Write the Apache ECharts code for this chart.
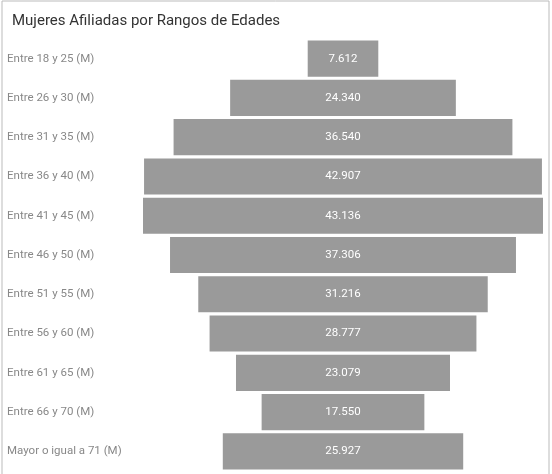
<!DOCTYPE html>
<html>
<head>
<meta charset="utf-8">
<script src="https://cdn.jsdelivr.net/npm/echarts@6/dist/echarts.min.js"></script>
<style>
html,body{margin:0;padding:0;background:#fff;}
#chart{width:552px;height:474px;}
</style>
</head>
<body>
<div id="chart"></div>
<script>
const titleText = 'Mujeres Afiliadas por Rangos de Edades';
const categories = [
  'Entre 18 y 25 (M)',
  'Entre 26 y 30 (M)',
  'Entre 31 y 35 (M)',
  'Entre 36 y 40 (M)',
  'Entre 41 y 45 (M)',
  'Entre 46 y 50 (M)',
  'Entre 51 y 55 (M)',
  'Entre 56 y 60 (M)',
  'Entre 61 y 65 (M)',
  'Entre 66 y 70 (M)',
  'Mayor o igual a 71 (M)'
];
const values = [7612, 24340, 36540, 42907, 43136, 37306, 31216, 28777, 23079, 17550, 25927];

const maxVal = Math.max(...values);
const offsets = values.map(v => (maxVal - v) / 2);
const fmt = n => String(n).replace(/\B(?=(\d{3})+(?!\d))/g, '.');

const chart = echarts.init(document.getElementById('chart'));
chart.setOption({
  animation: false,
  backgroundColor: '#fff',
  title: {
    text: titleText,
    left: 7,
    top: 9,
    textStyle: { fontFamily: 'Roboto', fontSize: 15, fontWeight: 'normal', color: '#333' }
  },
  graphic: [{
    type: 'rect',
    shape: { x: 2, y: 1, width: 547, height: 480 },
    style: { fill: 'none', stroke: '#bbb', lineWidth: 1 },
    silent: true
  }],
  grid: { left: 143, right: 9, top: 39, bottom: 3, containLabel: false },
  xAxis: {
    type: 'value',
    min: 0,
    max: maxVal,
    show: false
  },
  yAxis: {
    type: 'category',
    data: categories,
    inverse: true,
    axisLine: { show: false },
    axisTick: { show: false },
    axisLabel: {
      align: 'left',
      margin: 136,
      fontFamily: 'Roboto',
      fontSize: 11.5,
      color: '#888'
    }
  },
  series: [
    {
      type: 'bar',
      stack: 'f',
      data: offsets,
      itemStyle: { color: 'transparent' },
      barCategoryGap: '8%',
      silent: true
    },
    {
      type: 'bar',
      stack: 'f',
      data: values,
      barCategoryGap: '8%',
      itemStyle: { color: '#9a9a9a' },
      label: {
        show: true,
        position: 'inside',
        formatter: p => fmt(p.value),
        color: '#fff',
        fontFamily: 'Roboto',
        fontSize: 11.5
      }
    }
  ]
});
</script>
</body>
</html>
